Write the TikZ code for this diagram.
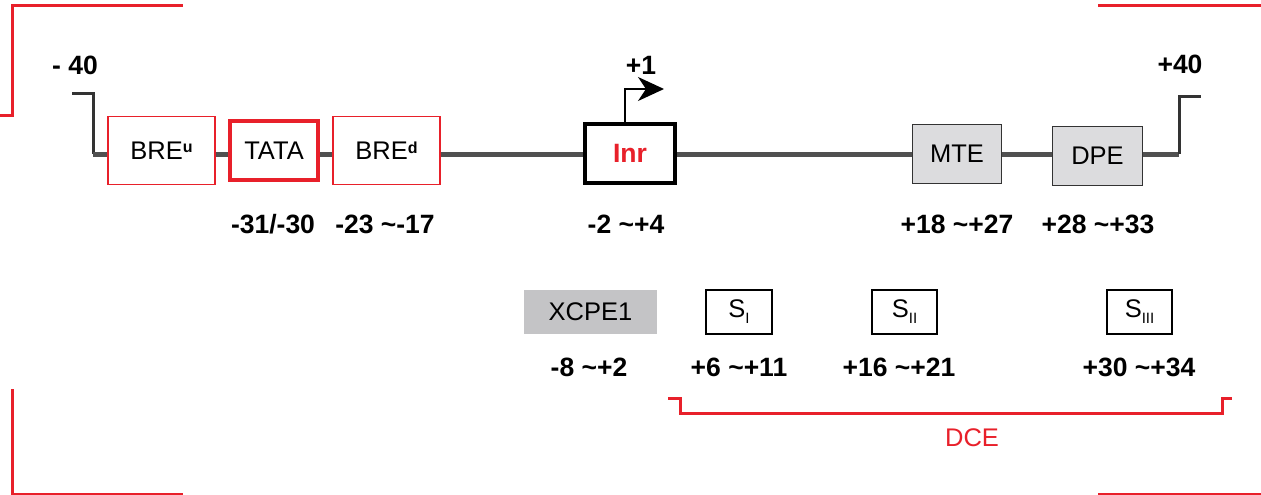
\documentclass[tikz,border=0pt]{standalone}
\usepackage{fontspec}
\setmainfont{Liberation Sans}
\usetikzlibrary{arrows.meta}
\definecolor{promred}{HTML}{E8202A}
\definecolor{spinegray}{HTML}{505050}
\definecolor{corebox}{HTML}{DCDCDE}
\definecolor{xcpebox}{HTML}{C4C4C6}
% small raised / lowered tags inside element names
\newcommand{\eltop}[1]{{\fontsize{16}{16}\selectfont\bfseries\raisebox{6.5pt}{#1}}}
\newcommand{\elsub}[1]{{\fontsize{15}{15}\selectfont\raisebox{-6pt}{#1}}}
\begin{document}
\begin{tikzpicture}[x=1pt,y=-1pt,
  elem/.style={draw, fill=white, inner sep=0pt, text=black,
    font=\fontsize{25.5}{25.5}\selectfont},
  redbox/.style={elem, draw=promred, line width=1.6pt},
  corebox/.style={elem, fill=corebox, draw=black!80, line width=1.6pt},
  sitebox/.style={elem, draw=black, line width=1.6pt},
  poslabel/.style={inner sep=0pt, font=\fontsize{26.5}{26.5}\selectfont\bfseries},
  spine/.style={draw=spinegray, line width=5pt},
  endmark/.style={draw=black!80, line width=3pt},
  frame/.style={draw=promred, line width=3pt},
]
\useasboundingbox (0,0) rectangle (1261,495);

% corner marks
\draw[frame] (0,115) -- (12,115) -- (12,6) -- (183,6);
\draw[frame] (12,389) -- (12,494) -- (183,494);
\draw[frame] (1098,6) -- (1261,6);
\draw[frame] (1098,494.5) -- (1261,494.5);

% ends of the promoter window
\coordinate (lend) at (72,93);
\coordinate (lfoot) at (93,154);
\coordinate (rfoot) at (1179,154);
\coordinate (rend) at (1201,96);

% core promoter elements
\node[redbox, minimum width=107pt, minimum height=68pt] (breu) at (161.5,150.5) {BRE\eltop{u}};
\node[redbox, line width=4.5pt, minimum width=88pt, minimum height=59pt] (tata) at (274,150.5) {TATA};
\node[redbox, minimum width=107pt, minimum height=68pt] (bred) at (386.5,150.5) {BRE\eltop{d}};
\node[elem, line width=4.5pt, minimum width=90pt, minimum height=59pt,
      text=promred, font=\fontsize{26.5}{26.5}\selectfont\bfseries] (inr) at (630,153.5) {Inr};
\node[corebox, minimum width=89pt, minimum height=59pt] (mte) at (957,154) {MTE};
\node[corebox, minimum width=90pt, minimum height=59pt] (dpe) at (1097.5,156) {DPE};

% backbone between the elements
\draw[endmark] (lend) -- (lend -| lfoot) -- (lfoot);
\draw[spine] (lfoot) -- (breu.west |- lfoot);
\draw[spine] (breu.east |- lfoot) -- (tata.west |- lfoot);
\draw[spine] (tata.east |- lfoot) -- (bred.west |- lfoot);
\draw[spine] (bred.east |- lfoot) -- (inr.west |- lfoot);
\draw[spine] (inr.east |- lfoot) -- (mte.west |- lfoot);
\draw[spine] (mte.east |- lfoot) -- (dpe.west |- lfoot);
\draw[spine] (dpe.east |- lfoot) -- (rfoot);
\draw[endmark] (rfoot) -- (rfoot |- rend) -- (rend);

% transcription start site
\coordinate (tss) at (664,89);
\draw[line width=2.2pt, -{Stealth[length=26pt,width=24pt,inset=8pt]}] (inr.north -| 625,0) -- (625,89) -- (tss);
\node[poslabel] (plus1) at (641,65) {+1};
\node[poslabel] (m40) at (75,65) {- 40};
\node[poslabel] (p40) at (1180,64) {+40};

% positions of the upper elements
\node[poslabel] (ptata) at (273,224) {-31/-30};
\node[poslabel] (pbred) at (385,224) {-23 \char`~-17};
\node[poslabel] (pinr) at (626,224) {-2 \char`~+4};
\node[poslabel] (pmte) at (957,224) {+18 \char`~+27};
\node[poslabel] (pdpe) at (1098,224) {+28 \char`~+33};

% downstream elements
\node[elem, draw=none, fill=xcpebox, minimum width=133pt, minimum height=44pt] (xcpe) at (590.5,312) {XCPE1};
\node[sitebox, minimum width=66pt, minimum height=44pt] (s1) at (739,312) {S\elsub{I}};
\node[sitebox, minimum width=65pt, minimum height=44pt] (s2) at (904.5,312) {S\elsub{II}};
\node[sitebox, minimum width=65pt, minimum height=44pt] (s3) at (1139.5,312) {S\elsub{III}};

\node[poslabel] (pxcpe) at (589,367) {-8 \char`~+2};
\node[poslabel] (ps1) at (739,367) {+6 \char`~+11};
\node[poslabel] (ps2) at (899,367) {+16 \char`~+21};
\node[poslabel] (ps3) at (1139,367) {+30 \char`~+34};

% downstream core element bracket
\draw[frame] (668,398) -- (680,398) -- (680,413) -- (1222,413) -- (1222,398) -- (1232,398);
\node[inner sep=0pt, text=promred, font=\fontsize{25.5}{25.5}\selectfont] (dce) at (972,438) {DCE};
\end{tikzpicture}
\end{document}
